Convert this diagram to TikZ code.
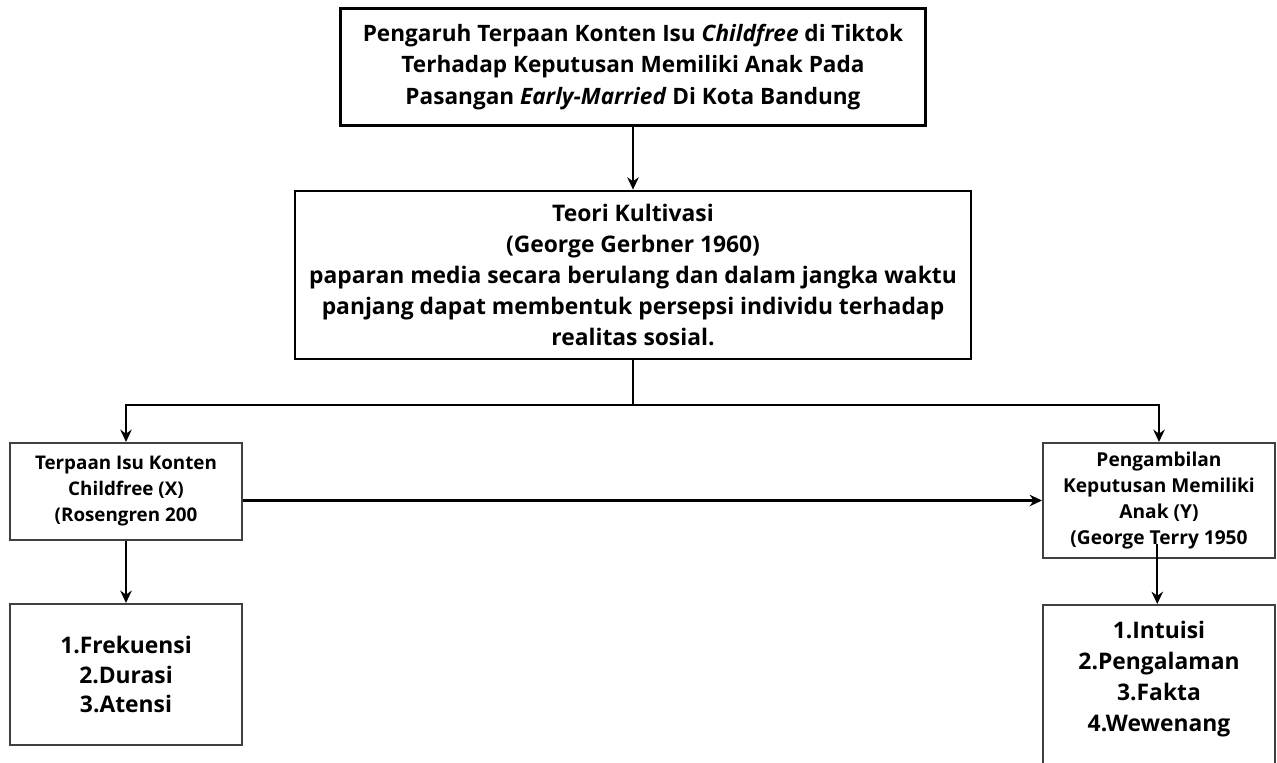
\documentclass[tikz,border=0pt]{standalone}
\usepackage{fontspec}
\setmainfont{Open Sans}
\usetikzlibrary{positioning,arrows.meta}

\begin{document}
\begin{tikzpicture}[
x=0.02cm, y=-0.02cm,
kotak/.style={rectangle, draw=black, line width=1.6pt, align=center, font=\bfseries, inner sep=2pt},
kotakkecil/.style={kotak, draw=black!75, line width=1.2pt, minimum width=4.64cm},
panah/.style={-{Stealth[length=7pt,width=6.5pt]}, line width=1.4pt},
garis/.style={line width=1.4pt},
]
\clip (0,0) rectangle (1277,762);
%Nodes
\node[kotak, minimum width=11.7cm, minimum height=2.34cm, font=\bfseries\fontsize{12.85}{18}\selectfont]
      (judul)       at (633,67)    {Pengaruh Terpaan Konten Isu \textit{Childfree} di Tiktok\\Terhadap Keputusan Memiliki Anak Pada\\Pasangan \textit{Early-Married} Di Kota Bandung};
\node[kotak, minimum width=13.52cm, minimum height=3.36cm, font=\bfseries\fontsize{13}{17.6}\selectfont]
      (kultivasi)   at (633,275)   {Teori Kultivasi\\(George Gerbner 1960)\\paparan media secara berulang dan dalam jangka waktu\\panjang dapat membentuk persepsi individu terhadap\\realitas sosial.};
\node[kotakkecil, minimum height=1.94cm, font=\bfseries\fontsize{10.7}{14.8}\selectfont]
      (terpaanX)    at (126,491.5) {Terpaan Isu Konten\\Childfree (X)\\(Rosengren 200};
\node[kotakkecil, minimum height=2.82cm, font=\bfseries\fontsize{13}{17}\selectfont]
      (indikatorX)  at (126,674.5) {1.Frekuensi\\2.Durasi\\3.Atensi};
\node[kotakkecil, minimum height=2.30cm, font=\bfseries\fontsize{10.9}{14.8}\selectfont]
      (keputusanY)  at (1159,500.5) {Pengambilan\\Keputusan Memiliki\\Anak (Y)\\(George Terry 1950};
\node[kotakkecil, minimum height=4cm, anchor=north, font=\bfseries\fontsize{13}{17.6}\selectfont]
      (indikatorY)  at (1159,604)  {1.Intuisi\\2.Pengalaman\\3.Fakta\\4.Wewenang\\[15pt]\mbox{}};

\coordinate (cabang) at (633,405);

%Lines
\draw[panah] (judul.south) -- (kultivasi.north);
\draw[garis] (kultivasi.south) -- (cabang);
\draw[panah] (cabang) -| (terpaanX.north);
\draw[panah] (cabang) -| (keputusanY.north);
\draw[panah] (terpaanX.east |- keputusanY.west) -- (keputusanY.west);
\draw[panah] (terpaanX.south) -- (indikatorX.north);
\draw[panah] ([xshift=-1pt,yshift=8.5pt]keputusanY.south) -- ([xshift=-1pt]indikatorY.north);
\end{tikzpicture}
\end{document}
